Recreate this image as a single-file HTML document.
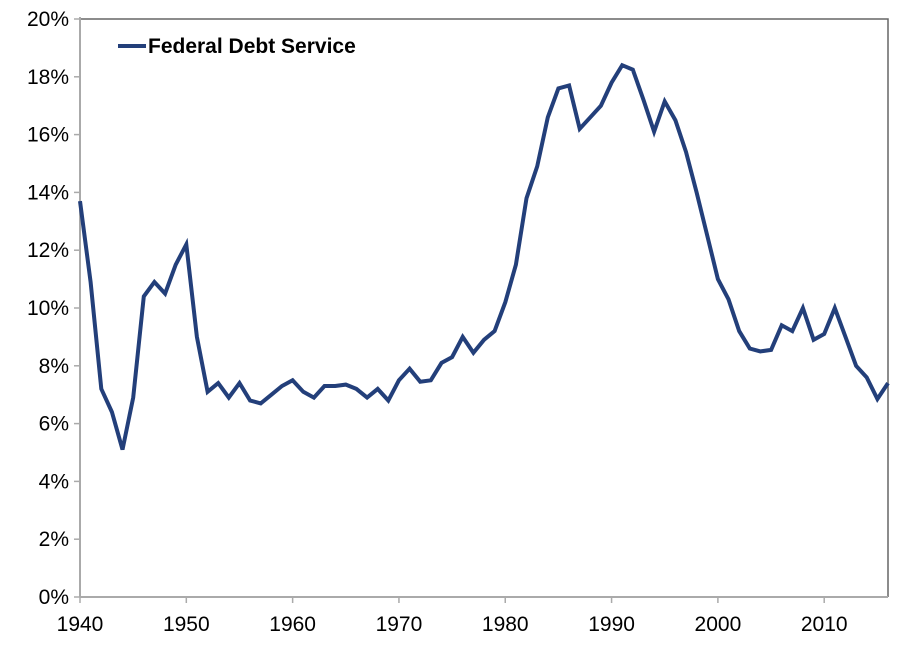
<!DOCTYPE html>
<html><head><meta charset="utf-8"><style>
body{margin:0;background:#fff;font-family:"Liberation Sans",Arial,sans-serif}
</style></head><body>
<svg width="912" height="646" xmlns="http://www.w3.org/2000/svg" id="chart"></svg>
<script>
const years=[];for(let y=1940;y<=2016;y++)years.push(y);
const debtService=[13.7,10.9,7.2,6.4,5.1,6.9,10.4,10.9,10.5,11.5,12.2,9.0,7.1,7.4,6.9,7.4,6.8,6.7,7.0,7.3,7.5,7.1,6.9,7.3,7.3,7.35,7.2,6.9,7.2,6.8,7.5,7.9,7.45,7.5,8.1,8.3,9.0,8.45,8.9,9.2,10.2,11.5,13.8,14.9,16.6,17.6,17.7,16.2,16.6,17.0,17.8,18.4,18.25,17.2,16.1,17.15,16.5,15.4,14.0,12.5,11.0,10.3,9.2,8.6,8.5,8.55,9.4,9.2,10.0,8.9,9.1,10.0,9.0,8.0,7.6,6.85,7.4];
const yTicks=[0,2,4,6,8,10,12,14,16,18,20];
const xTicks=[1940,1950,1960,1970,1980,1990,2000,2010];
const L=80,R=888,T=19,B=597,x0=1940,x1=2016;
const X=v=>L+(v-x0)/(x1-x0)*(R-L), Y=v=>B-v/20*(B-T);
const svg=document.getElementById('chart'),NS='http://www.w3.org/2000/svg';
function mk(t,a,p){const e=document.createElementNS(NS,t);for(const k in a)e.setAttribute(k,a[k]);(p||svg).appendChild(e);return e;}
let e=mk('path',{d:`M${L},${T}H${R}V${B}`,fill:'none',stroke:'#666','stroke-width':1.5});


yTicks.forEach(v=>{
 let t=mk('line',{x1:L-6,x2:L,y1:Y(v),y2:Y(v),stroke:'#aaa','stroke-width':1.5});
 
 
 let l=mk('text',{x:L-11,y:Y(v)+7,'text-anchor':'end','font-size':21,fill:'#000'});l.textContent=v+'%';
 
 
});
xTicks.forEach(v=>{
 let t=mk('line',{x1:X(v),x2:X(v),y1:B,y2:B+6,stroke:'#aaa','stroke-width':1.5});
 
 
 let l=mk('text',{x:X(v),y:B+34,'text-anchor':'middle','font-size':21,fill:'#000'});l.textContent=v;
 
 
});
e=mk('line',{x1:L,x2:L,y1:T-2,y2:B,stroke:'#aaa','stroke-width':2});


e=mk('line',{x1:L,x2:R,y1:B,y2:B,stroke:'#aaa','stroke-width':2});


const d=debtService.map((v,i)=>(i?'L':'M')+X(years[i]).toFixed(1)+','+Y(v).toFixed(1)).join('');
e=mk('path',{d:d,fill:'none',stroke:'#233f7a','stroke-width':4,'stroke-linejoin':'miter'});


e=mk('line',{x1:118,x2:146,y1:46,y2:46,stroke:'#233f7a','stroke-width':4});


e=mk('text',{x:148,y:53,'font-size':21,'font-weight':'bold',fill:'#000'});e.textContent='Federal Debt Service';


</script>
</body></html>
